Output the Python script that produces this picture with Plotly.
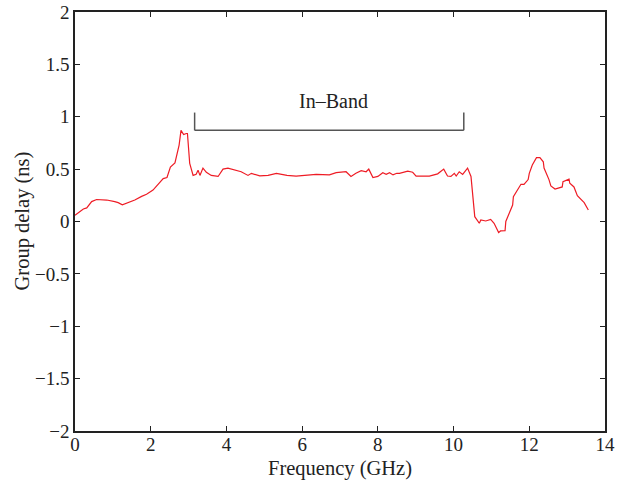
import plotly.graph_objects as go

# Measured group delay (ns) versus frequency (GHz)
freq_ghz = [0.0, 0.22, 0.31, 0.44, 0.57, 0.84, 1.05, 1.14, 1.25, 1.45, 1.58, 1.76, 1.89,
            2.06, 2.19, 2.33, 2.43, 2.47, 2.52, 2.64, 2.75, 2.80, 2.87, 2.94, 2.97, 3.03,
            3.12, 3.20, 3.25, 3.30, 3.38, 3.47, 3.60, 3.78, 3.91, 4.04, 4.22, 4.39, 4.57,
            4.66, 4.88, 5.10, 5.32, 5.60, 5.84, 6.10, 6.37, 6.72, 6.90, 7.16, 7.29, 7.42,
            7.56, 7.69, 7.76, 7.87, 8.00, 8.13, 8.22, 8.31, 8.40, 8.50, 8.57, 8.79, 8.92,
            9.01, 9.36, 9.58, 9.74, 9.84, 9.93, 10.02, 10.07, 10.15, 10.24, 10.37, 10.46,
            10.56, 10.63, 10.68, 10.72, 10.85, 10.98, 11.03, 11.07, 11.19, 11.24, 11.36,
            11.38, 11.47, 11.56, 11.58, 11.69, 11.78, 11.86, 11.97, 12.00, 12.08, 12.19,
            12.28, 12.37, 12.39, 12.52, 12.57, 12.68, 12.87, 12.89, 13.05, 13.07, 13.18,
            13.27, 13.45, 13.56]
delay_ns = [0.06, 0.12, 0.13, 0.19, 0.21, 0.205, 0.19, 0.18, 0.16, 0.19, 0.205, 0.24, 0.26,
            0.30, 0.35, 0.41, 0.42, 0.475, 0.52, 0.56, 0.73, 0.87, 0.83, 0.84, 0.84, 0.555,
            0.44, 0.45, 0.49, 0.44, 0.51, 0.47, 0.44, 0.43, 0.50, 0.51, 0.495, 0.475, 0.44,
            0.46, 0.435, 0.44, 0.46, 0.44, 0.434, 0.445, 0.45, 0.445, 0.466, 0.475, 0.43, 0.46,
            0.485, 0.475, 0.50, 0.42, 0.43, 0.466, 0.45, 0.466, 0.445, 0.46, 0.46, 0.48, 0.47,
            0.434, 0.434, 0.455, 0.50, 0.434, 0.43, 0.46, 0.434, 0.475, 0.45, 0.51, 0.43,
            0.046, 0.014, -0.017, 0.014, 0.005, 0.02, 0.0, -0.017, -0.106, -0.09, -0.088,
            0.0, 0.078, 0.157, 0.237, 0.30, 0.355, 0.355, 0.40, 0.46, 0.54, 0.61,
            0.61, 0.57, 0.51, 0.40, 0.34, 0.31, 0.33, 0.38, 0.405, 0.365, 0.33,
            0.246, 0.18, 0.11]

x_ticks = [0, 2, 4, 6, 8, 10, 12, 14]
y_ticks = [-2, -1.5, -1, -0.5, 0, 0.5, 1, 1.5, 2]

# In-band bracket extent
band_start, band_end = 3.16, 10.27
bracket_low, bracket_high = 0.87, 1.04

font_family = "Liberation Serif"
axis_color = "#222222"

fig = go.Figure()
fig.add_trace(go.Scatter(
    x=freq_ghz, y=delay_ns, mode="lines",
    line=dict(color="#ee1c25", width=1.2),
    showlegend=False, hoverinfo="skip",
))

# Bracket marking the in-band region
bracket_color = "#555555"
fig.add_shape(type="line", x0=band_start, x1=band_end, y0=bracket_low, y1=bracket_low,
              line=dict(color=bracket_color, width=1.5))
fig.add_shape(type="line", x0=band_start, x1=band_start, y0=bracket_low, y1=bracket_high,
              line=dict(color=bracket_color, width=1.5))
fig.add_shape(type="line", x0=band_end, x1=band_end, y0=bracket_low, y1=bracket_high,
              line=dict(color=bracket_color, width=1.5))
fig.add_annotation(x=(band_start + band_end) / 2 + 0.1, y=1.03, text="In–Band",
                   showarrow=False, yanchor="bottom",
                   font=dict(family=font_family, size=20, color=axis_color))

# Axis titles placed as paper-anchored annotations
title_font = dict(family=font_family, size=20.5, color=axis_color)
fig.add_annotation(text="Frequency (GHz)", xref="paper", yref="paper", x=0.5, y=0,
                   yanchor="middle", yshift=-37, showarrow=False, font=title_font)
fig.add_annotation(text="Group delay (ns)", xref="paper", yref="paper", x=0, y=0.5,
                   xanchor="center", xshift=-53, textangle=-90, showarrow=False,
                   font=title_font)

axis_common = dict(
    showline=True, linecolor=axis_color, linewidth=1.5, mirror="ticks",
    ticks="inside", ticklen=5, tickwidth=1, tickcolor=axis_color,
    showgrid=False, zeroline=False, automargin=False,
    tickfont=dict(family=font_family, size=19, color=axis_color),
)

fig.update_xaxes(range=[0, 14], tickvals=x_ticks, ticklabelstandoff=-5, **axis_common)
fig.update_yaxes(range=[-2, 2], tickvals=y_ticks, **axis_common)

fig.update_layout(
    width=624, height=483,
    margin=dict(l=75, r=19, t=12, b=52),
    paper_bgcolor="white", plot_bgcolor="white",
    font=dict(family=font_family, color=axis_color),
)

fig.write_html("out.html")
